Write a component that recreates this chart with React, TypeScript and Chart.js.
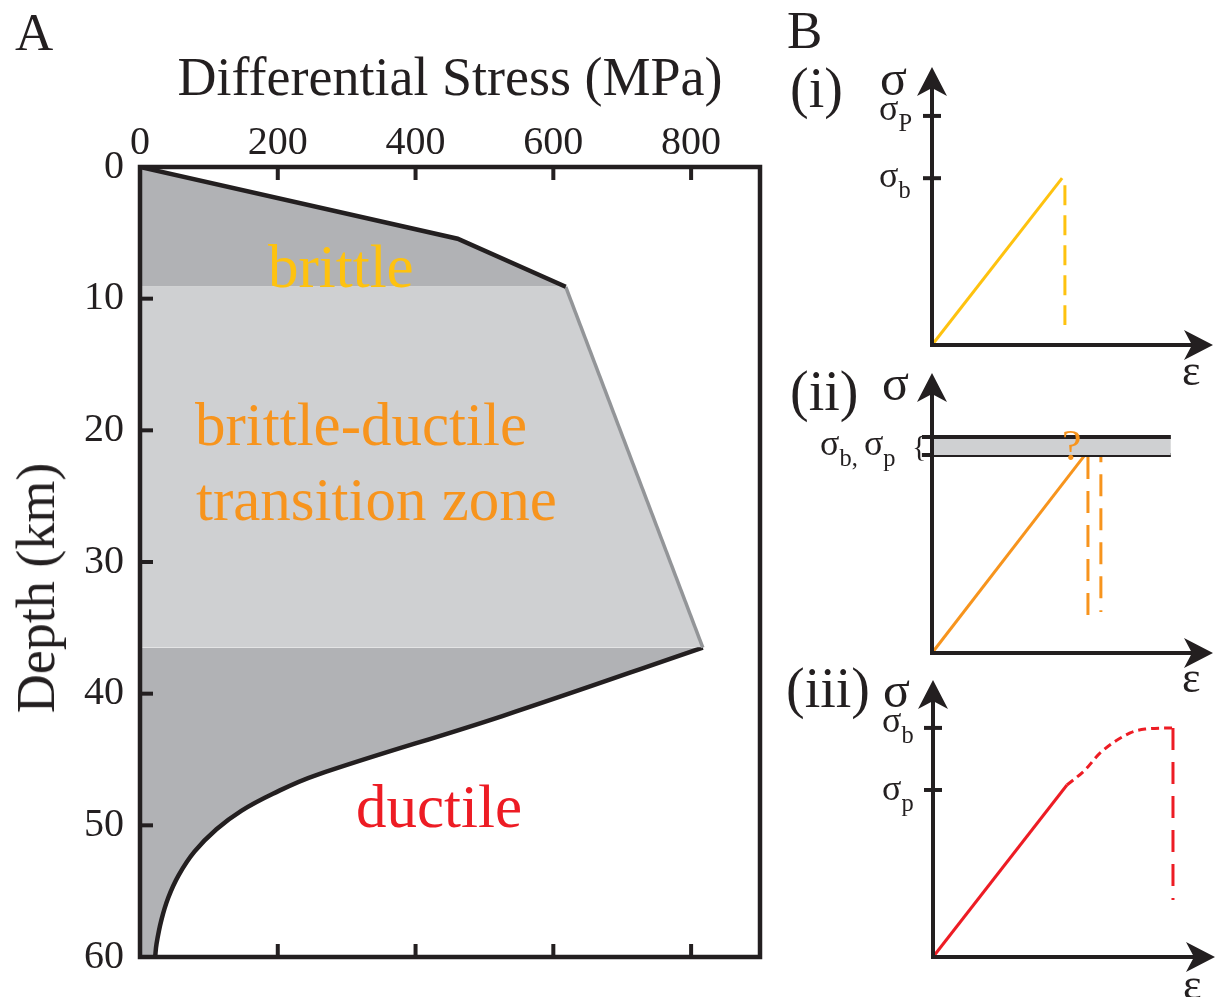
import React, { useEffect, useRef } from 'react';
import { Chart, registerables } from 'chart.js';

Chart.register(...registerables);

const FONT = '"Liberation Serif", "Times New Roman", serif';
const INK = '#231f20';
const DARK_FILL = '#b1b2b5';
const LIGHT_FILL = '#cfd0d2';
const YELLOW = '#fec20f';
const ORANGE = '#f7941d';
const RED = '#ed1c24';

// ---------- Panel A data (stress in MPa, depth in km) ----------
const stressTicks = [0, 200, 400, 600, 800];
const depthTicks = [0, 10, 20, 30, 40, 50, 60];
const brittleStress = [0, 461, 618];
const brittleDepth = [0, 5.45, 9.1];
const transitionStress = [618, 817];
const transitionDepth = [9.1, 36.5];
const ductileStress = [817, 526, 255, 193, 147, 111, 79, 56, 41, 31, 24, 22];
const ductileDepth = [36.5, 41.7, 46.2, 47.6, 48.9, 50.3, 52.0, 53.8, 55.5, 57.2, 59.0, 60];

// ---------- Panel B data (strain / stress, schematic units 0..10) ----------
// (i) brittle
const iElasticStrain = [0, 4.63];
const iElasticStress = [0, 6.0];
const iFailStrain = [4.73, 4.73];
const iFailStress = [5.75, 0.72];
const iTicks = [8.24, 6.0]; // σP, σb
// (ii) brittle-ductile
const iiElasticStrain = [0, 5.5];
const iiElasticStress = [0, 7.15];
const iiFail1Strain = [5.55, 5.55];
const iiFail1Stress = [7.0, 0.93];
const iiFail2Strain = [6.01, 6.01];
const iiFail2Stress = [7.6, 1.46];
const iiBandStrain = [-0.36, 8.5];
const iiBandTop = [7.71, 7.71];
const iiBandBottom = [7.07, 7.07];
// (iii) ductile
const iiiElasticStrain = [0, 4.75];
const iiiElasticStress = [0, 6.21];
const iiiPlasticStrain = [4.75, 5.39, 5.92, 6.99, 7.52, 8.51];
const iiiPlasticStress = [6.21, 6.75, 7.36, 8.09, 8.23, 8.27];
const iiiFailStrain = [8.51, 8.51];
const iiiFailStress = [8.27, 2.06];
const iiiTicks = [8.27, 6.03]; // σb, σp

const pts = (xs: number[], ys: number[]) => xs.map((x, i) => ({ x, y: ys[i] }));

Chart.defaults.font.family = FONT;

// Frame + inward ticks for panel A
const frameTicks = {
  id: 'frameTicks',
  afterDatasetsDraw(chart: any) {
    const { ctx, chartArea } = chart;
    const { left, right, top, bottom } = chartArea;
    const xs = chart.scales.x;
    const ys = chart.scales.y;
    ctx.save();
    ctx.strokeStyle = INK;
    ctx.lineWidth = 4.5;
    ctx.lineJoin = 'miter';
    ctx.strokeRect(left, top, right - left, bottom - top);
    ctx.lineWidth = 4;
    xs.ticks.forEach((t: any) => {
      if (t.value <= 0) return;
      const px = xs.getPixelForValue(t.value);
      ctx.beginPath();
      ctx.moveTo(px, top);
      ctx.lineTo(px, top + 13);
      ctx.moveTo(px, bottom);
      ctx.lineTo(px, bottom - 13);
      ctx.stroke();
    });
    ys.ticks.forEach((t: any) => {
      if (t.value <= 0 || t.value >= 60) return;
      const py = ys.getPixelForValue(t.value);
      ctx.beginPath();
      ctx.moveTo(left, py);
      ctx.lineTo(left + 13, py);
      ctx.stroke();
    });
    ctx.restore();
  },
};

// Arrow axes + tick marks for panel B mini charts
const arrowAxes = {
  id: 'arrowAxes',
  afterDatasetsDraw(chart: any, _args: any, opts: any) {
    const { ctx } = chart;
    const xs = chart.scales.x;
    const ys = chart.scales.y;
    const x0 = xs.getPixelForValue(0);
    const y0 = ys.getPixelForValue(0);
    const xTip = xs.getPixelForValue(10);
    const yTip = ys.getPixelForValue(10);
    ctx.save();
    ctx.strokeStyle = INK;
    ctx.fillStyle = INK;
    ctx.lineWidth = 4;
    ctx.lineJoin = 'miter';
    ctx.beginPath();
    ctx.moveTo(x0, yTip + 20);
    ctx.lineTo(x0, y0);
    ctx.lineTo(xTip - 20, y0);
    ctx.stroke();
    // y arrow head
    ctx.beginPath();
    ctx.moveTo(x0, yTip);
    ctx.lineTo(x0 + 15, yTip + 29);
    ctx.lineTo(x0, yTip + 21);
    ctx.lineTo(x0 - 15, yTip + 29);
    ctx.closePath();
    ctx.fill();
    // x arrow head
    ctx.beginPath();
    ctx.moveTo(xTip, y0);
    ctx.lineTo(xTip - 29, y0 - 15);
    ctx.lineTo(xTip - 21, y0);
    ctx.lineTo(xTip - 29, y0 + 15);
    ctx.closePath();
    ctx.fill();
    // stress ticks
    (opts.ticks || []).forEach((v: number) => {
      const py = ys.getPixelForValue(v);
      ctx.beginPath();
      ctx.moveTo(x0 - 9, py);
      ctx.lineTo(x0 + 9, py);
      ctx.stroke();
    });
    ctx.restore();
  },
};

function PanelA() {
  const ref = useRef<HTMLCanvasElement>(null);
  useEffect(() => {
    const chart = new Chart(ref.current as HTMLCanvasElement, {
      type: 'line',
      data: {
        datasets: [
          {
            data: pts(brittleStress, brittleDepth),
            borderColor: INK,
            borderWidth: 4.5,
            backgroundColor: DARK_FILL,
            fill: 'origin',
            pointRadius: 0,
            tension: 0,
          },
          {
            data: pts(transitionStress, transitionDepth),
            borderColor: '#939598',
            borderWidth: 3.5,
            backgroundColor: LIGHT_FILL,
            fill: 'origin',
            pointRadius: 0,
            tension: 0,
          },
          {
            data: pts(ductileStress, ductileDepth),
            borderColor: INK,
            borderWidth: 4.5,
            backgroundColor: DARK_FILL,
            fill: 'origin',
            pointRadius: 0,
            tension: 0.4,
          },
        ],
      } as any,
      options: {
        indexAxis: 'y',
        animation: false,
        responsive: false,
        maintainAspectRatio: false,
        events: [],
        layout: { padding: { left: 0, top: 0, right: 20, bottom: 35 } },
        scales: {
          x: {
            type: 'linear',
            position: 'top',
            min: 0,
            max: 900,
            afterBuildTicks: (s: any) => {
              s.ticks = stressTicks.map((value) => ({ value }));
            },
            afterFit: (s: any) => {
              s.height = 167;
            },
            ticks: {
              font: { size: 40, family: FONT },
              color: INK,
              padding: 0,
              maxRotation: 0,
              autoSkip: false,
            },
            grid: { display: false, drawTicks: false },
            border: { display: false },
            title: {
              display: true,
              text: 'Differential Stress (MPa)',
              font: { size: 54, family: FONT },
              color: INK,
              padding: { top: 48, bottom: 0 },
            },
          },
          y: {
            type: 'linear',
            reverse: true,
            min: 0,
            max: 60,
            afterBuildTicks: (s: any) => {
              s.ticks = depthTicks.map((value) => ({ value }));
            },
            afterFit: (s: any) => {
              s.width = 140;
            },
            ticks: {
              font: { size: 40, family: FONT },
              color: INK,
              padding: 16,
              autoSkip: false,
            },
            grid: { display: false, drawTicks: false },
            border: { display: false },
          },
        },
        plugins: {
          legend: { display: false },
          tooltip: { enabled: false },
        },
      } as any,
      plugins: [frameTicks],
    });
    return () => chart.destroy();
  }, []);
  return (
    <canvas
      ref={ref}
      width={780}
      height={997}
      style={{ position: 'absolute', left: 0, top: 0, width: 780, height: 997 }}
    />
  );
}

type MiniProps = {
  top: number;
  height: number;
  pad: { left: number; right: number; top: number; bottom: number };
  datasets: any[];
  ticks: number[];
};

function MiniChart({ top, height, pad, datasets, ticks }: MiniProps) {
  const ref = useRef<HTMLCanvasElement>(null);
  useEffect(() => {
    const chart = new Chart(ref.current as HTMLCanvasElement, {
      type: 'line',
      data: { datasets },
      options: {
        animation: false,
        responsive: false,
        maintainAspectRatio: false,
        events: [],
        layout: { padding: pad },
        scales: {
          x: { type: 'linear', display: false, min: 0, max: 10 },
          y: { type: 'linear', display: false, min: 0, max: 10 },
        },
        plugins: {
          legend: { display: false },
          tooltip: { enabled: false },
          arrowAxes: { ticks },
        },
      } as any,
      plugins: [arrowAxes],
    });
    return () => chart.destroy();
  }, []);
  return (
    <canvas
      ref={ref}
      width={438}
      height={height}
      style={{ position: 'absolute', left: 780, top, width: 438, height }}
    />
  );
}

const line = (xs: number[], ys: number[], color: string, extra: any = {}) => ({
  data: pts(xs, ys),
  borderColor: color,
  borderWidth: 3,
  pointRadius: 0,
  fill: false,
  tension: 0,
  clip: false,
  ...extra,
});

const dsI = [
  line(iElasticStrain, iElasticStress, YELLOW),
  line(iFailStrain, iFailStress, YELLOW, { borderDash: [20, 10] }),
];
const dsII = [
  line(iiBandStrain, iiBandTop, INK, { borderWidth: 4, fill: '+1', backgroundColor: LIGHT_FILL }),
  line(iiBandStrain, iiBandBottom, INK, { borderWidth: 4 }),
  line(iiElasticStrain, iiElasticStress, ORANGE),
  line(iiFail1Strain, iiFail1Stress, ORANGE, { borderDash: [22, 12] }),
  line(iiFail2Strain, iiFail2Stress, ORANGE, { borderDash: [22, 12] }),
];
const dsIII = [
  line(iiiElasticStrain, iiiElasticStress, RED),
  line(iiiPlasticStrain, iiiPlasticStress, RED, { borderDash: [8, 5], cubicInterpolationMode: 'monotone' }),
  line(iiiFailStrain, iiiFailStress, RED, { borderDash: [22, 12] }),
];

type TProps = { x: number; base: number; size: number; color?: string; children: React.ReactNode };
function T({ x, base, size, color = INK, children }: TProps) {
  return (
    <div
      style={{
        position: 'absolute',
        left: x,
        top: base - 0.8375 * size,
        fontSize: size,
        lineHeight: 1,
        whiteSpace: 'nowrap',
        color,
        fontFamily: FONT,
      }}
    >
      {children}
    </div>
  );
}

const Sub = ({ off, children }: { off: number; children: React.ReactNode }) => (
  <span style={{ fontSize: '0.68em', position: 'relative', top: off }}>{children}</span>
);

export default function App() {
  return (
    <div
      style={{
        position: 'absolute',
        left: 0,
        top: 0,
        width: 1218,
        height: 997,
        overflow: 'hidden',
        background: '#ffffff',
        fontFamily: FONT,
        color: INK,
      }}
    >
      <PanelA />
      <MiniChart top={40} height={340} pad={{ left: 152, right: 5, top: 27, bottom: 35 }} datasets={dsI} ticks={iTicks} />
      <MiniChart top={360} height={330} pad={{ left: 152, right: 5, top: 13, bottom: 37 }} datasets={dsII} ticks={[]} />
      <MiniChart top={665} height={332} pad={{ left: 153, right: 3, top: 15, bottom: 40 }} datasets={dsIII} ticks={iiiTicks} />

      {/* Panel A labels */}
      <T x={15} base={50} size={53}>A</T>
      <div style={{ position: 'absolute', left: 36, top: 588, width: 0, height: 0 }}>
        <div
          style={{
            position: 'absolute',
            left: 0,
            top: 0,
            fontSize: 54,
            lineHeight: 1,
            whiteSpace: 'nowrap',
            transform: 'translate(-50%, -50%) rotate(-90deg)',
            fontFamily: FONT,
            color: INK,
          }}
        >
          Depth (km)
        </div>
      </div>
      <T x={268} base={287} size={61} color={YELLOW}>brittle</T>
      <T x={195} base={445} size={61} color={ORANGE}>brittle-ductile</T>
      <T x={196} base={520} size={61} color={ORANGE}>transition zone</T>
      <T x={356} base={827} size={61} color={RED}>ductile</T>

      {/* Panel B labels */}
      <T x={787} base={48} size={53}>B</T>
      <T x={790} base={107} size={56}>(i)</T>
      <T x={790} base={410} size={56}>(ii)</T>
      <T x={786} base={707} size={56}>(iii)</T>

      <T x={880} base={95} size={50}>σ</T>
      <T x={882} base={400} size={50}>σ</T>
      <T x={883} base={707} size={50}>σ</T>

      <T x={879} base={120} size={36}>σ<Sub off={11}>P</Sub></T>
      <T x={879} base={187} size={36}>σ<Sub off={11}>b</Sub></T>

      <T x={820} base={455} size={36}>σ<Sub off={11}>b</Sub><Sub off={11}>, </Sub>σ<Sub off={11}>p</Sub></T>
      <T x={912} base={456} size={30}>{'{'}</T>
      <T x={1062} base={461} size={44} color={ORANGE}>?</T>

      <T x={882} base={732} size={36}>σ<Sub off={11}>b</Sub></T>
      <T x={882} base={800} size={36}>σ<Sub off={11}>p</Sub></T>

      <T x={1182} base={386} size={44}>ε</T>
      <T x={1182} base={693} size={44}>ε</T>
      <T x={1183} base={1000} size={44}>ε</T>
    </div>
  );
}
